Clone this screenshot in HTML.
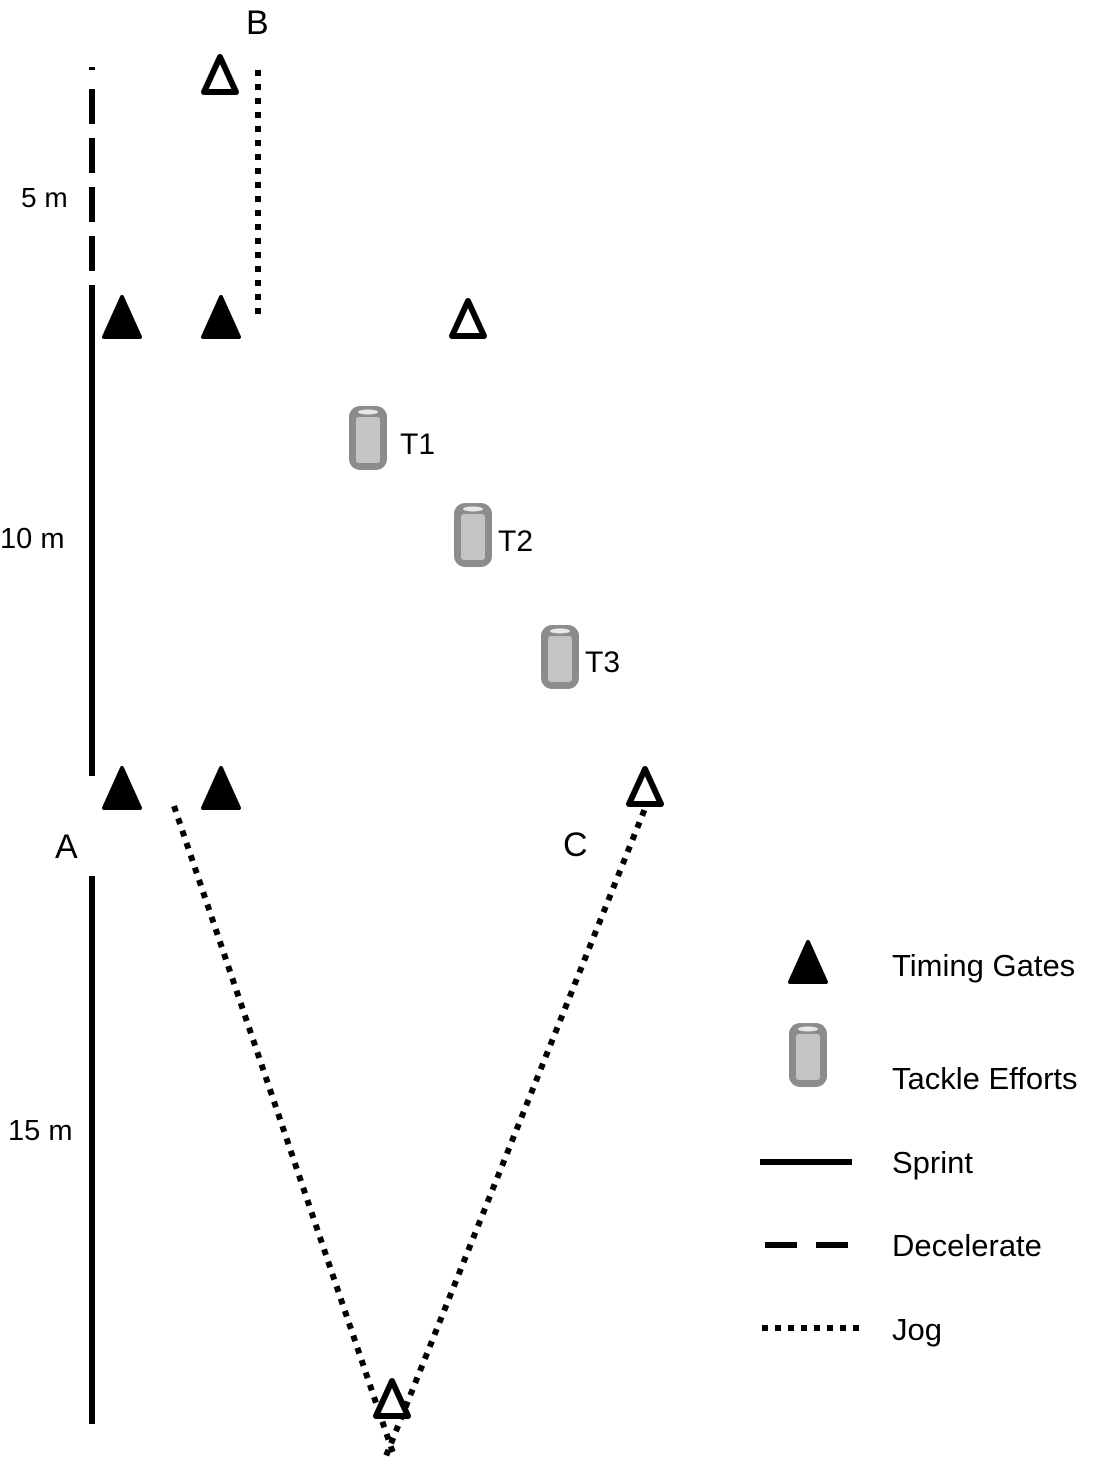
<!DOCTYPE html>
<html><head><style>body{margin:0;background:#fff}svg{display:block}</style></head><body>
<svg width="1101" height="1464" viewBox="0 0 1101 1464" xmlns="http://www.w3.org/2000/svg" font-family="Liberation Sans, sans-serif" font-size="30">
<defs>
<g id="ft"><path d="M0,-21 L18,19 L-18,19 Z" fill="#000" stroke="#000" stroke-width="4" stroke-linejoin="round"/></g>
<g id="ot"><path d="M0,-19 L16,16 L-16,16 Z" fill="#fff" stroke="#000" stroke-width="6" stroke-linejoin="round"/></g>
<g id="cyl"><rect x="-19" y="-32" width="38" height="64" rx="11" fill="#8c8c8c"/><rect x="-12" y="-21" width="24" height="46" rx="3" fill="#c4c4c4"/><ellipse cx="0" cy="-26" rx="10" ry="2.5" fill="#e8e8e8"/></g>
</defs>
<line x1="92" y1="67" x2="92" y2="318" stroke="#000" stroke-width="6" stroke-dasharray="3,19,35,14,35,14,35,14,35,14,35,14"/>
<line x1="92" y1="318" x2="92" y2="776" stroke="#000" stroke-width="6"/>
<line x1="92" y1="876" x2="92" y2="1424" stroke="#000" stroke-width="6"/>
<line x1="258" y1="70" x2="258" y2="318" stroke="#000" stroke-width="6" stroke-dasharray="6,8"/>
<line x1="174" y1="806" x2="394" y2="1456" stroke="#000" stroke-width="6" stroke-dasharray="6,7"/>
<line x1="654" y1="786" x2="386" y2="1456" stroke="#000" stroke-width="6" stroke-dasharray="6,7"/>
<use href="#ft" x="122" y="318"/><use href="#ft" x="221" y="318"/>
<use href="#ft" x="122" y="789"/><use href="#ft" x="221" y="789"/>
<use href="#ot" x="220" y="76"/><use href="#ot" x="468" y="320"/>
<use href="#ot" x="645" y="788"/><use href="#ot" x="392" y="1400"/>
<use href="#cyl" x="368" y="438"/><use href="#cyl" x="473" y="535"/><use href="#cyl" x="560" y="657"/>
<text x="400" y="454">T1</text><text x="498" y="551">T2</text><text x="585" y="672">T3</text>
<text x="246" y="34" font-size="34">B</text>
<text x="55" y="858" font-size="34">A</text>
<text x="563" y="856" font-size="34">C</text>
<text x="21" y="207" font-size="28">5 m</text>
<text x="0" y="548" font-size="29">10 m</text>
<text x="8" y="1140" font-size="29">15 m</text>
<use href="#ft" x="808" y="963"/>
<use href="#cyl" x="808" y="1055"/>
<line x1="760" y1="1162" x2="852" y2="1162" stroke="#000" stroke-width="6"/>
<line x1="765" y1="1245" x2="848" y2="1245" stroke="#000" stroke-width="6" stroke-dasharray="32,19"/>
<line x1="762" y1="1328" x2="866" y2="1328" stroke="#000" stroke-width="6" stroke-dasharray="6,7"/>
<g font-size="31">
<text x="892" y="976">Timing Gates</text>
<text x="892" y="1089">Tackle Efforts</text>
<text x="892" y="1173">Sprint</text>
<text x="892" y="1256">Decelerate</text>
<text x="892" y="1340">Jog</text>
</g>
</svg>
</body></html>
